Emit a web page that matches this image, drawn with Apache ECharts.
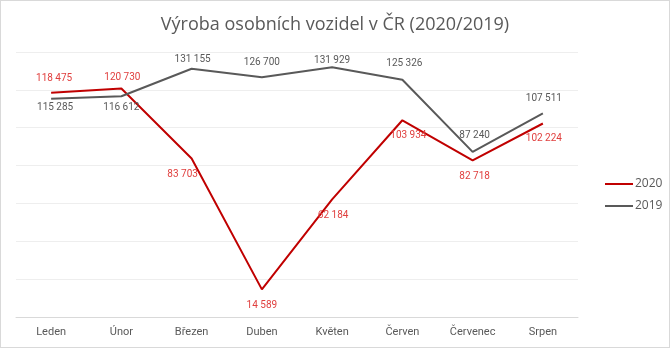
<!DOCTYPE html>
<html><head><meta charset="utf-8">
<script src="https://cdn.jsdelivr.net/npm/echarts@6/dist/echarts.min.js"></script>
<style>
html,body{margin:0;padding:0;background:#fff;}
#c{width:668px;height:346px;border:1px solid #d9d9d9;}
</style></head>
<body><div id="c"></div>
<script>
const categories = ['Leden','Únor','Březen','Duben','Květen','Červen','Červenec','Srpen'];
const values2020 = [118475,120730,83703,14589,62184,103934,82718,102224];
const values2019 = [115285,116612,131155,126700,131929,125326,87240,107511];

// label styling (offset of each data label from its point)
const labelOffsets2020 = [[3,-14],[1,-11],[-9,16],[0,16],[1,16],[6,15],[2,16],[1,15]];
const labelOffsets2019 = [[4,9],[0,11],[1,-9],[0,-15],[0,-7],[2,-16],[2,-16],[1,-15]];

const fmt = v => String(v).replace(/\B(?=(\d{3})+(?!\d))/g, ' ');
function mk(vals, offs){
  return vals.map((v,i)=>({value:v, label:{position:'inside', offset:offs[i]}}));
}
const chart = echarts.init(document.getElementById('c'), null, {renderer:'canvas'});
chart.setOption({
  animation:false,
  title:{text:'Výroba osobních vozidel v ČR (2020/2019)', left:'center', top:10,
    textStyle:{fontFamily:'Open Sans', fontWeight:'normal', fontSize:18, color:'#595959'}},
  legend:{orient:'vertical', left:599, top:172, itemGap:10, itemWidth:28, itemHeight:2, icon:'rect',
    textStyle:{fontFamily:'Open Sans', fontSize:12, color:'#595959', padding:[0,0,0,-3]},
    data:['2020','2019']},
  grid:{left:15, right:91, top:51, bottom:30},
  xAxis:{type:'category', data:categories, boundaryGap:true,
    axisLine:{lineStyle:{color:'#d9d9d9', width:1}}, axisTick:{show:false},
    axisLabel:{fontFamily:'Roboto', fontSize:11, color:'#595959', margin:10}},
  yAxis:{type:'value', min:0, max:140000, interval:20000,
    axisLabel:{show:false}, axisLine:{show:false}, axisTick:{show:false},
    splitLine:{lineStyle:{color:'#eeeeee', width:1}}},
  series:[
    {name:'2020', type:'line', data:mk(values2020,labelOffsets2020), symbol:'circle', symbolSize:0.1, showSymbol:true,
      lineStyle:{color:'#C00000', width:2}, itemStyle:{color:'#C00000'},
      label:{show:true, formatter:p=>fmt(p.value), fontFamily:'Roboto', fontSize:10, color:'#E0403F'}},
    {name:'2019', type:'line', data:mk(values2019,labelOffsets2019), symbol:'circle', symbolSize:0.1, showSymbol:true,
      lineStyle:{color:'#595959', width:2}, itemStyle:{color:'#595959'},
      label:{show:true, formatter:p=>fmt(p.value), fontFamily:'Roboto', fontSize:10, color:'#595959'}}
  ]
});
</script></body></html>
